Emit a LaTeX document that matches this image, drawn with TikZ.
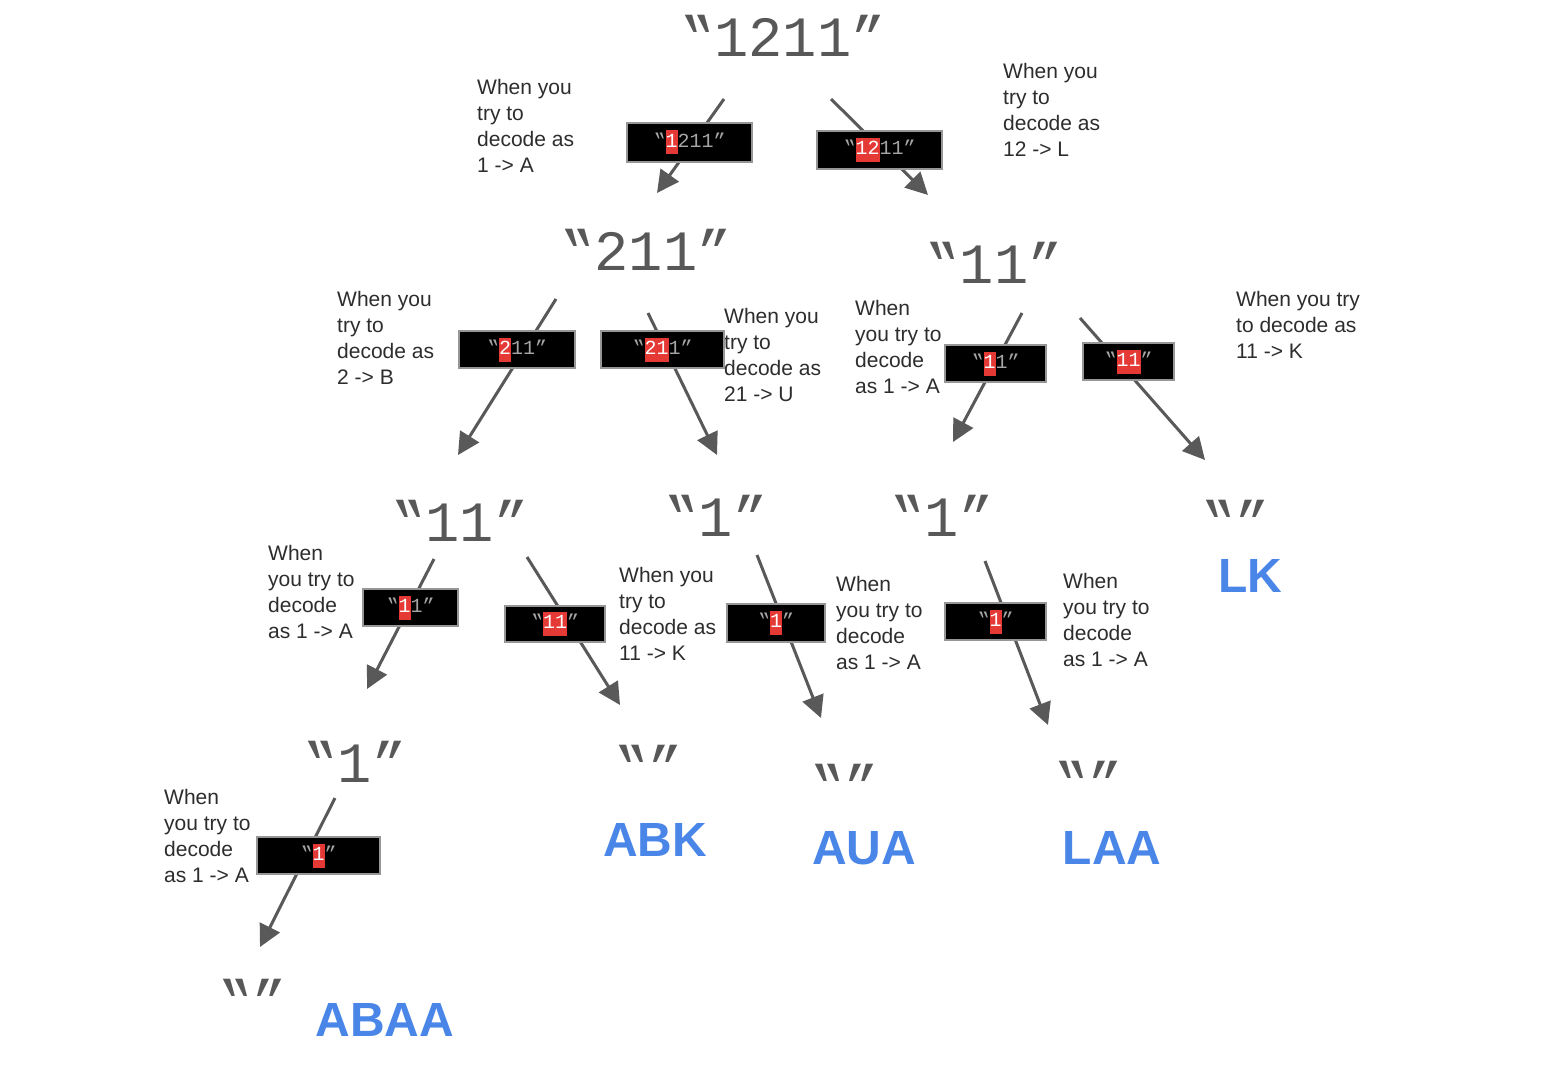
\documentclass[tikz,border=0pt]{standalone}
\usepackage{graphicx}
\usepackage{fontspec}
\setmainfont{Liberation Sans}
\newfontfamily\monof{Liberation Mono}
\usetikzlibrary{arrows.meta}
\definecolor{arrowgray}{RGB}{89,89,89}
\definecolor{strgray}{RGB}{88,88,88}
\definecolor{txtgray}{RGB}{45,45,45}
\definecolor{ansblue}{RGB}{74,134,232}
\definecolor{hlred}{RGB}{229,57,53}
\definecolor{boxtxt}{RGB}{165,165,165}
\definecolor{boxedge}{RGB}{150,150,150}
\newcommand\hlt[1]{{\setlength{\fboxsep}{0pt}\colorbox{hlred}{\strut\textcolor{white}{#1}}}}
\newcommand\openq{\reflectbox{”}}
\tikzset{
  bigstr/.style={anchor=base, inner sep=0pt, font=\monof\fontsize{57}{60}\selectfont, text=strgray},
  answer/.style={anchor=base, inner sep=0pt, font=\fontsize{48}{52}\selectfont\bfseries, text=ansblue},
  note/.style={anchor=north west, inner sep=0pt, align=left, font=\fontsize{21}{26}\selectfont, text=txtgray},
  codebox/.style={fill=black, draw=boxedge, line width=1.2pt, inner sep=0pt, font=\monof\fontsize{20}{24}\selectfont, text=boxtxt},
  flow/.style={draw=arrowgray, line width=3pt, -{Triangle[length=22pt,width=22pt]}}
}
\begin{document}
\begin{tikzpicture}[x=1pt,y=-1pt]
\fill[white] (0,0) rectangle (1542,1070);
\useasboundingbox (0,0) rectangle (1542,1070);

% strings
\node[bigstr] (s0) at (783,57) {\openq1211”};
\node[bigstr] (s1) at (646,270) {\openq211”};
\node[bigstr] (s2) at (994,283) {\openq11”};
\node[bigstr] (s3) at (460,541) {\openq11”};
\node[bigstr] (s4) at (716,536) {\openq1”};
\node[bigstr] (s5) at (942,536) {\openq1”};
\node[bigstr] (s6) at (1235,541) {\openq”};
\node[bigstr] (s7) at (355,782) {\openq1”};
\node[bigstr] (s8) at (648,786) {\openq”};
\node[bigstr] (s9) at (844,805) {\openq”};
\node[bigstr] (s10) at (1088,802) {\openq”};
\node[bigstr] (s11) at (252,1020) {\openq”};

% answers
\node[answer] (r1) at (1250,592) {LK};
\node[answer] (r2) at (655,856) {ABK};
\node[answer] (r3) at (864,864) {AUA};
\node[answer] (r4) at (1112,864) {LAA};
\node[answer] (r5) at (385,1036) {ABAA};

% notes
\node[note] (n1) at (477,79) {When you\\try to\\decode as\\1 -> A};
\node[note] (n2) at (1003,63) {When you\\try to\\decode as\\12 -> L};
\node[note] (n3) at (337,291) {When you\\try to\\decode as\\2 -> B};
\node[note] (n4) at (724,308) {When you\\try to\\decode as\\21 -> U};
\node[note] (n5) at (855,300) {When\\you try to\\decode\\as 1 -> A};
\node[note] (n6) at (1236,291) {When you try\\to decode as\\11 -> K};
\node[note] (n7) at (268,545) {When\\you try to\\decode\\as 1 -> A};
\node[note] (n8) at (619,567) {When you\\try to\\decode as\\11 -> K};
\node[note] (n9) at (836,576) {When\\you try to\\decode\\as 1 -> A};
\node[note] (n10) at (1063,573) {When\\you try to\\decode\\as 1 -> A};
\node[note] (n11) at (164,789) {When\\you try to\\decode\\as 1 -> A};

% arrow endpoints
\coordinate (a1s) at (724,99);   \coordinate (a1e) at (657,193);
\coordinate (a2s) at (831,99);   \coordinate (a2e) at (928,195);
\coordinate (a3s) at (556,299);  \coordinate (a3e) at (458,455);
\coordinate (a4s) at (648,313);  \coordinate (a4e) at (717,455);
\coordinate (a5s) at (1022,313); \coordinate (a5e) at (953,442);
\coordinate (a6s) at (1080,318); \coordinate (a6e) at (1205,460);
\coordinate (a7s) at (434,559);  \coordinate (a7e) at (367,689);
\coordinate (a8s) at (527,557);  \coordinate (a8e) at (620,705);
\coordinate (a9s) at (757,555);  \coordinate (a9e) at (821,718);
\coordinate (a10s) at (985,561); \coordinate (a10e) at (1048,725);
\coordinate (a11s) at (335,798); \coordinate (a11e) at (260,947);
\foreach \i in {1,...,11} {\draw[flow] (a\i s) -- (a\i e);}

% code boxes
\node[codebox, minimum width=125pt, minimum height=39pt] (b1) at (689.5,142.5) {\openq\hlt{1}211”};
\node[codebox, minimum width=125pt, minimum height=38pt] (b2) at (879.5,150) {\openq\hlt{12}11”};
\node[codebox, minimum width=116pt, minimum height=37pt] (b3) at (517,349.5) {\openq\hlt{2}11”};
\node[codebox, minimum width=123pt, minimum height=37pt] (b4) at (662.5,349.5) {\openq\hlt{21}1”};
\node[codebox, minimum width=101pt, minimum height=37pt] (b5) at (995.5,363.5) {\openq\hlt{1}1”};
\node[codebox, minimum width=91pt, minimum height=37pt] (b6) at (1128.5,361.5) {\openq\hlt{11}”};
\node[codebox, minimum width=95pt, minimum height=37pt] (b7) at (410.5,607.5) {\openq\hlt{1}1”};
\node[codebox, minimum width=100pt, minimum height=36pt] (b8) at (555,624) {\openq\hlt{11}”};
\node[codebox, minimum width=98pt, minimum height=38pt] (b9) at (776,623) {\openq\hlt{1}”};
\node[codebox, minimum width=101pt, minimum height=37pt] (b10) at (995.5,621.5) {\openq\hlt{1}”};
\node[codebox, minimum width=123pt, minimum height=37pt] (b11) at (318.5,855.5) {\openq\hlt{1}”};
\end{tikzpicture}
\end{document}
